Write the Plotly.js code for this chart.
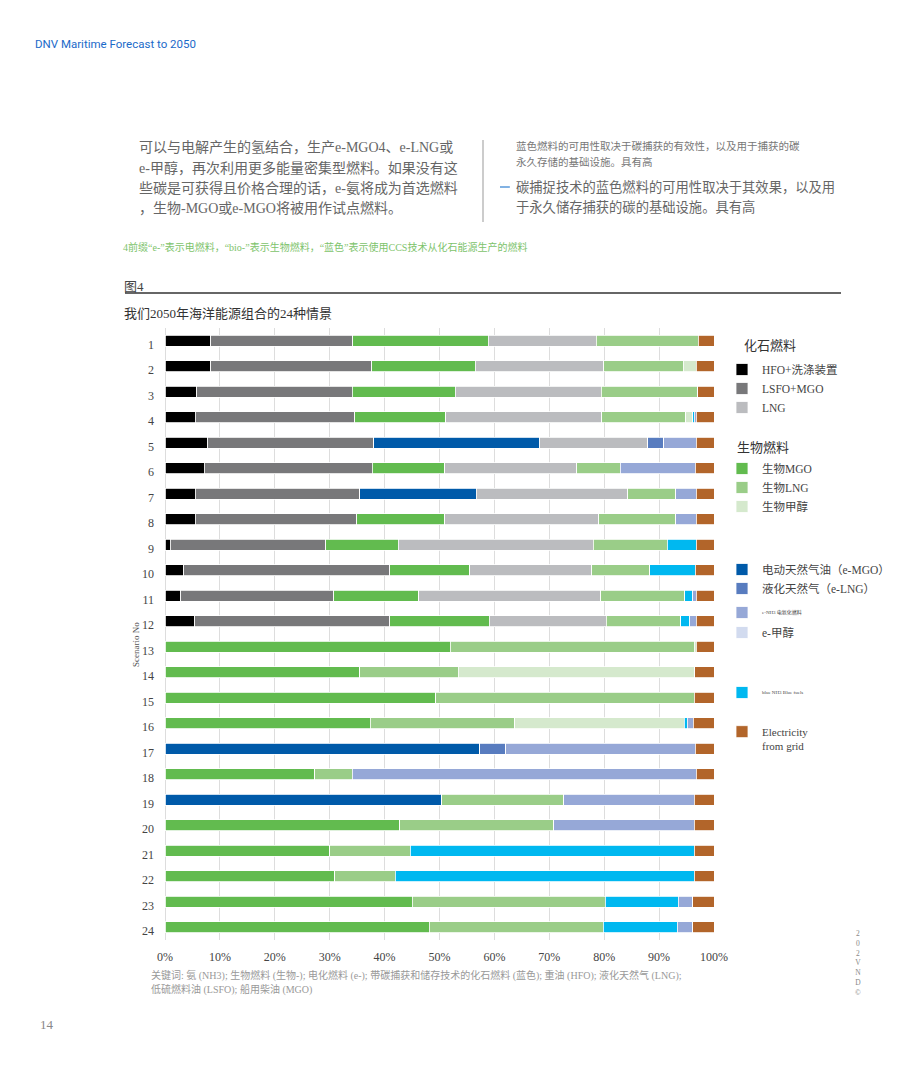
<!DOCTYPE html>
<html>
<head>
<meta charset="utf-8">
<script src="https://cdn.plot.ly/plotly-3.0.1.min.js"></script>
<style>
  body { margin: 0; background: #fff; }
  #chart { width: 920px; height: 1080px; }
</style>
</head>
<body>
<div id="chart"></div>
<script>
// scenario numbers (rows, top to bottom)
var scenarios = ['1','2','3','4','5','6','7','8','9','10','11','12','13','14','15','16','17','18','19','20','21','22','23','24'];

// share of energy per fuel, %
var hfo     = [8.3, 8.3, 5.8, 5.5, 7.8, 7.2, 5.5, 5.5, 1.0, 3.4, 2.9, 5.4, 0, 0, 0, 0, 0, 0, 0, 0, 0, 0, 0, 0];
var lsfo    = [25.9, 29.4, 28.3, 29.0, 30.2, 30.6, 29.9, 29.4, 28.3, 37.6, 27.8, 35.5, 0, 0, 0, 0, 0, 0, 0, 0, 0, 0, 0, 0];
var bioMgo  = [24.7, 18.8, 18.8, 16.5, 0, 13.2, 0, 16.0, 13.2, 14.6, 15.5, 18.2, 52.0, 35.5, 49.3, 37.4, 0, 27.3, 0, 42.8, 30.0, 30.9, 45.0, 48.1];
var eMgo    = [0, 0, 0, 0, 30.2, 0, 21.2, 0, 0, 0, 0, 0, 0, 0, 0, 0, 57.3, 0, 50.4, 0, 0, 0, 0, 0];
var lng     = [19.7, 23.4, 26.6, 28.4, 19.6, 24.1, 27.6, 28.0, 35.6, 22.2, 33.1, 21.3, 0, 0, 0, 0, 0, 0, 0, 0, 0, 0, 0, 0];
var bioLng  = [18.6, 14.5, 17.5, 15.3, 0, 7.9, 8.7, 14.0, 13.5, 10.6, 15.3, 13.5, 44.4, 17.9, 47.1, 26.3, 0, 6.8, 22.2, 28.0, 14.7, 11.0, 35.2, 31.7];
var eLng    = [0, 0, 0, 0, 3.0, 0, 0, 0, 0, 0, 0, 0, 0, 0, 0, 0, 4.8, 0, 0, 0, 0, 0, 0, 0];
var bioMeoh = [0, 2.4, 0, 1.2, 0, 0, 0, 0, 0, 0, 0, 0, 0.4, 43.1, 0, 30.9, 0, 0, 0, 0, 0, 0, 0, 0];
var blueNh3 = [0, 0, 0, 0.3, 0, 0, 0, 0, 5.3, 8.3, 1.4, 1.7, 0, 0, 0, 0.5, 0, 0, 0, 0, 51.7, 54.5, 13.3, 13.5];
var eNh3    = [0, 0, 0, 0.4, 5.9, 13.7, 3.8, 3.8, 0, 0, 0.7, 1.2, 0, 0, 0, 1.1, 34.5, 62.7, 23.8, 25.6, 0, 0, 2.6, 2.8];
var eMeoh   = [0, 0, 0, 0, 0, 0, 0, 0, 0, 0, 0, 0, 0, 0, 0, 0, 0, 0, 0, 0, 0, 0, 0, 0];
var elec    = [2.9, 3.2, 3.0, 3.2, 3.2, 3.4, 3.2, 3.2, 3.2, 3.4, 3.2, 3.2, 3.2, 3.5, 3.6, 3.8, 3.4, 3.2, 3.6, 3.6, 3.6, 3.6, 3.9, 3.9];

var xTicks = [0, 10, 20, 30, 40, 50, 60, 70, 80, 90, 100];
var xTickText = ['0%', '10%', '20%', '30%', '40%', '50%', '60%', '70%', '80%', '90%', '100%'];

var SERIF = 'Liberation Serif, Noto Sans CJK SC, serif';

// plot box in page pixels: x 165..714, y 328..940
var L = 165, R = 714, T = 328, B = 940;
function px(x) { return (x - L) / (R - L); }
function py(y) { return 1 - (y - T) / (B - T); }

function bar(name, vals, color, legend) {
  return {
    type: 'bar', orientation: 'h', name: name,
    x: vals, y: scenarios,
    marker: {color: color, line: {color: '#ffffff', width: 0.8}},
    width: 0.45, legend: legend, legendgroup: name,
    hoverinfo: 'x+name'
  };
}

var data = [
  bar('HFO+洗涤装置', hfo, '#000000', 'legend'),
  bar('LSFO+MGO', lsfo, '#78787a', 'legend'),
  bar('生物MGO', bioMgo, '#62bb4f', 'legend2'),
  bar('电动天然气油（e-MGO）', eMgo, '#005aa9', 'legend3'),
  bar('LNG', lng, '#bbbcbf', 'legend'),
  bar('生物LNG', bioLng, '#9acd88', 'legend2'),
  bar('液化天然气（e-LNG）', eLng, '#587cbf', 'legend3'),
  bar('生物甲醇', bioMeoh, '#d5e9cd', 'legend2'),
  bar('blue NH3 Blue fuels', blueNh3, '#00b8f0', 'legend6'),
  bar('e-NH3 电氨化燃料', eNh3, '#96a8d7', 'legend4'),
  bar('e-甲醇', eMeoh, '#d2dbef', 'legend5'),
  bar('Electricity<br>from grid', elec, '#b2652a', 'legend7')
];

function leg(xpx, ypx, size, extra) {
  var o = {
    x: px(xpx), y: py(ypx), xanchor: 'left', yanchor: 'top',
    bgcolor: 'rgba(0,0,0,0)', font: {family: SERIF, size: size, color: '#444'},
    tracegroupgap: 3, traceorder: 'normal'
  };
  for (var k in extra) o[k] = extra[k];
  return o;
}

var ann = [];
function txt(x, y, s, size, color, extra) {
  var a = {
    xref: 'paper', yref: 'paper', x: px(x), y: py(y), text: s,
    xanchor: 'left', yanchor: 'middle', showarrow: false,
    font: {family: SERIF, size: size, color: color}
  };
  for (var k in extra) a[k] = extra[k];
  ann.push(a);
}

txt(33, 44, 'DNV Maritime Forecast to 2050', 11.5, '#1b6ac9', {font: {family: 'Roboto, sans-serif', size: 11.5, color: '#1b6ac9'}});

txt(137, 148, '可以与电解产生的氢结合，生产e-MGO4、e-LNG或', 14, '#666');
txt(137, 168, 'e-甲醇，再次利用更多能量密集型燃料。如果没有这', 14, '#666');
txt(137, 188, '些碳是可获得且价格合理的话，e-氨将成为首选燃料', 14, '#666');
txt(137, 208, '，生物-MGO或e-MGO将被用作试点燃料。', 14, '#666');

txt(514, 146, '蓝色燃料的可用性取决于碳捕获的有效性，以及用于捕获的碳', 10.5, '#777');
txt(514, 162, '永久存储的基础设施。具有高', 10.5, '#777');
txt(514, 187, '碳捕捉技术的蓝色燃料的可用性取决于其效果，以及用', 13.3, '#666');
txt(514, 207, '于永久储存捕获的碳的基础设施。具有高', 13.3, '#666');

txt(121, 247, '4前缀“e-”表示电燃料，“bio-”表示生物燃料，“蓝色”表示使用CCS技术从化石能源生产的燃料', 10, '#7dc36b');

txt(122, 286, '图4', 13, '#444');
txt(122, 313, '我们2050年海洋能源组合的24种情景', 13, '#333');

txt(742, 345, '化石燃料', 13, '#333');
txt(735, 447, '生物燃料', 13, '#333');

txt(136, 645, 'Scenario No', 9, '#555', {xanchor: 'center', textangle: -90});

txt(149, 975, '关键词: 氨 (NH3); 生物燃料 (生物-); 电化燃料 (e-); 带碳捕获和储存技术的化石燃料 (蓝色); 重油 (HFO); 液化天然气 (LNG);', 10, '#999');
txt(149, 989, '低硫燃料油 (LSFO); 船用柴油 (MGO)', 10, '#999');

txt(858, 963, '2<br>0<br>2<br>V<br>N<br>D<br>©', 7.5, '#888', {xanchor: 'center'});
txt(38, 1024, '14', 13, '#888');

var shapes = [
  {type: 'line', xref: 'paper', yref: 'paper', x0: px(483), x1: px(483), y0: py(140), y1: py(222),
   line: {color: '#999', width: 1}},
  {type: 'line', xref: 'paper', yref: 'paper', x0: px(500), x1: px(510), y0: py(187), y1: py(187),
   line: {color: '#2f7fd0', width: 1.2}},
  {type: 'line', xref: 'paper', yref: 'paper', x0: px(125), x1: px(841), y0: py(293), y1: py(293),
   line: {color: '#666', width: 2}}
];

var layout = {
  width: 920, height: 1080,
  margin: {l: L, r: 920 - R, t: T, b: 1080 - B},
  paper_bgcolor: '#ffffff', plot_bgcolor: '#ffffff',
  barmode: 'stack', barnorm: 'percent', bargap: 0.55,
  font: {family: SERIF, size: 12, color: '#444'},
  xaxis: {
    range: [0, 100], tickvals: xTicks, ticktext: xTickText,
    showgrid: true, gridcolor: '#dddddd', gridwidth: 1,
    zeroline: true, zerolinecolor: '#dddddd', showline: false,
    ticks: '', ticklabelstandoff: 8, tickfont: {family: SERIF, size: 12, color: '#444'},
    fixedrange: true
  },
  yaxis: {
    type: 'category', autorange: 'reversed',
    showgrid: false, zeroline: false, showline: false,
    ticks: '', ticklabelstandoff: 10, ticklabelshift: -4,
    tickfont: {family: SERIF, size: 12, color: '#444'},
    fixedrange: true
  },
  showlegend: true,
  legend: leg(722, 355, 11.5, {}),
  legend2: leg(722, 454, 11.5, {}),
  legend3: leg(722, 555, 11.5, {}),
  legend4: leg(722, 598, 5, {}),
  legend5: leg(722, 618, 11.5, {}),
  legend6: leg(722, 678, 5, {}),
  legend7: leg(722, 718, 11, {valign: 'top'}),
  annotations: ann,
  shapes: shapes
};

Plotly.newPlot('chart', data, layout, {displayModeBar: false, staticPlot: true});
</script>
</body>
</html>
